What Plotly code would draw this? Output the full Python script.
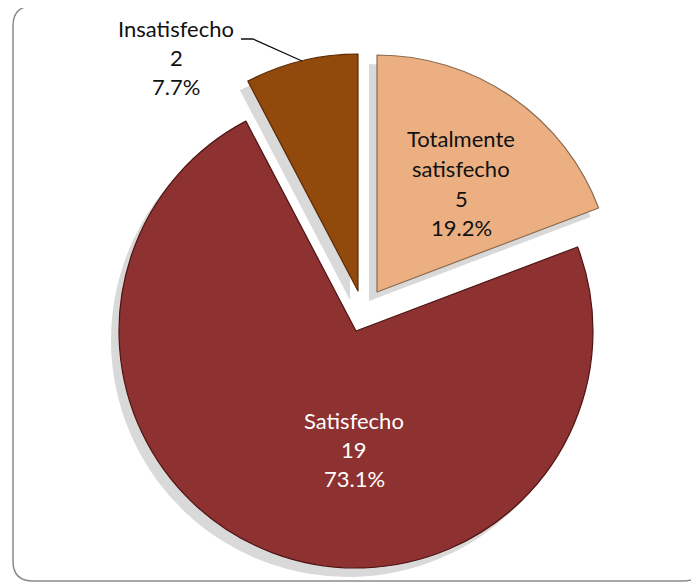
import plotly.graph_objects as go

# ---- data ----
labels = ["Totalmente satisfecho", "Satisfecho", "Insatisfecho"]
label_lines = [["Totalmente", "satisfecho"], ["Satisfecho"], ["Insatisfecho"]]
values = [5, 19, 2]
colors = ["#EBAF82", "#8E3131", "#924A0C"]
edge_colors = ["#8C6A4E", "#4E1414", "#5A2A05"]
text_colors = ["#111111", "#FFFFFF", "#111111"]

# ---- layout geometry (pixels in the screenshot) ----
W, H = 699, 588
OFF = 8  # page body margin
R = 237
centers = [(377, 292), (356, 331), (358, 291)]
shadow_dx, shadow_dy = -8, 9
label_anchor = [(461, 139), (354, 420), (176, 28)]
line_gap = 29.5
font_family = "Lato"
font_size = 22

total = sum(values)
pcts = [f"{v / total * 100:.1f}%" for v in values]


def px(x):
    return (x - OFF) / W


def py(y):
    return 1 - (y - OFF) / H


def domain(cx, cy):
    return dict(x=[px(cx - R), px(cx + R)], y=[py(cy + R), py(cy - R)])


fig = go.Figure()
for shadow in (True, False):
    for i in range(len(values)):
        cx, cy = centers[i]
        if shadow:
            cx += shadow_dx
            cy += shadow_dy
        cols = ["rgba(0,0,0,0)"] * len(values)
        lcols = ["rgba(0,0,0,0)"] * len(values)
        lw = [0] * len(values)
        if shadow:
            cols[i] = "rgba(0,0,0,0.15)"
        else:
            cols[i] = colors[i]
            lcols[i] = edge_colors[i]
            lw[i] = 1.2
        fig.add_trace(go.Pie(
            labels=labels, values=values, sort=False, direction="clockwise",
            rotation=0, textinfo="none", hoverinfo="skip", showlegend=False,
            marker=dict(colors=cols, line=dict(color=lcols, width=lw)),
            domain=domain(cx, cy),
        ))

# labels
annotations = []
for i in range(len(values)):
    lines = label_lines[i] + [str(values[i]), pcts[i]]
    x0, y0 = label_anchor[i]
    for k, t in enumerate(lines):
        annotations.append(dict(
            x=px(x0), y=py(y0 + k * line_gap), xref="paper", yref="paper",
            text=t, showarrow=False, xanchor="center", yanchor="middle",
            font=dict(family=font_family, size=font_size, color=text_colors[i]),
        ))

# frame (rounded rectangle) and leader line
fx0, fy0, fx1, fy1, fr = 13, 6, 703, 581, 20
rx, ry = fr / W, fr / H
frame = (
    f"M {px(fx0)},{py(fy0) - ry} Q {px(fx0)},{py(fy0)} {px(fx0) + rx},{py(fy0)} "
    f"L {px(fx1) - rx},{py(fy0)} Q {px(fx1)},{py(fy0)} {px(fx1)},{py(fy0) - ry} "
    f"L {px(fx1)},{py(fy1) + ry} Q {px(fx1)},{py(fy1)} {px(fx1) - rx},{py(fy1)} "
    f"L {px(fx0) + rx},{py(fy1)} Q {px(fx0)},{py(fy1)} {px(fx0)},{py(fy1) + ry} Z"
)
leader = f"M {px(241)},{py(39)} L {px(253)},{py(39)} L {px(302)},{py(61)}"

fig.update_layout(
    width=W, height=H, margin=dict(l=0, r=0, t=0, b=0),
    paper_bgcolor="white", plot_bgcolor="white",
    annotations=annotations,
    shapes=[
        dict(type="path", path=frame, xref="paper", yref="paper",
             line=dict(color="#8A8A8A", width=1.5), layer="below"),
        dict(type="path", path=leader, xref="paper", yref="paper",
             line=dict(color="#111111", width=1.3)),
    ],
)

fig.write_html("out.html")
